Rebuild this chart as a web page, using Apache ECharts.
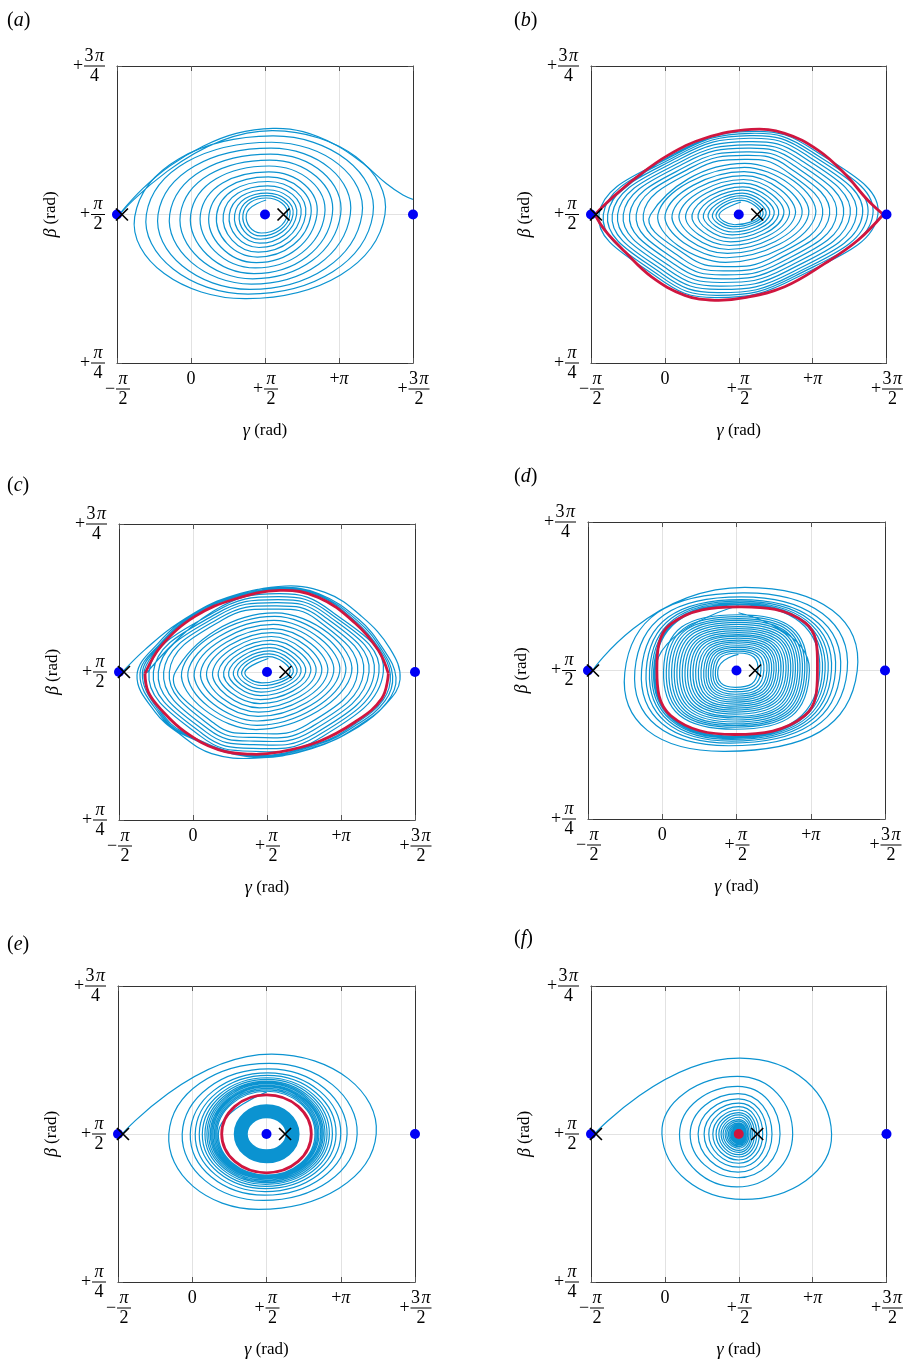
<!DOCTYPE html>
<html>
<head>
<meta charset="utf-8">
<title>Phase portraits</title>
<script src="https://cdn.jsdelivr.net/npm/echarts@6/dist/echarts.min.js"></script>
<style>
  html, body { margin: 0; padding: 0; background: #fff; }
  #chart { width: 906px; height: 1363px; }
</style>
</head>
<body>
<div id="chart"></div>
<script>
// angles are stored in degrees (gamma on x, beta on y); labels show them as multiples of pi
var xTickValues = [-90, 0, 90, 180, 270];
var xTickSigns = ['\u2212', '', '+', '+', '+'];
var xTickNums = ['\u03c0', '0', '\u03c0', '\u03c0', '3\u03c0'];
var xTickDens = ['2', '', '2', '', '2'];
var yTickValues = [45, 90, 135];
var yTickSigns = ['+', '+', '+'];
var yTickNums = ['\u03c0', '\u03c0', '3\u03c0'];
var yTickDens = ['4', '2', '4'];

var panelNames = ['a', 'b', 'c', 'd', 'e', 'f'];

// equilibria
var saddlePoints = [[-90, 90], [270, 90]];
var centerPoint = [[90, 90]];
var crossPoints = [[-84, 90], [112.5, 90]];

// (a)
var aSeparatrix = [[-84.7,90.8],[-58.4,97.9],[-25.9,104.7],[14.6,110.7],[55.1,114.6],[99.7,116.1],[136.2,115.1],[176.7,111.0],[209.2,105.5],[237.5,99.4],[257.8,95.9],[270,94.6]];
var aSpiral = [[-84.7,90.6],[99.7,115.4],[235.9,90.0],[67.3,64.5],[-68.5,89.3],
  [98.9,113.8],[221.3,90],[69.3,65.9],[-54.3,90],
  [98.1,111.9],[208.0,90],[71.4,67.3],[-40.1,90],
  [97.3,110.1],[193.8,90],[73.4,68.9],[-25.9,90],
  [96.5,108.3],[182.0,90],[75.0,70.5],[-13.0,90],
  [95.7,106.5],[171.9,90],[76.6,72.1],[-0.4,90],
  [94.9,104.7],[162.6,90],[78.2,73.8],[11.4,90],
  [94.5,102.9],[153.2,90],[79.5,75.4],[21.9,90],
  [94.1,101.4],[145.9,90],[80.7,77.1],[31.2,90],
  [93.6,100.0],[139.5,90],[81.9,78.6],[39.3,90],
  [93.2,98.7],[133.8,90],[82.7,80.0],[46.6,90],
  [92.8,97.5],[128.5,90],[83.5,81.3],[53.1,90],
  [92.4,96.5],[124.1,90],[84.3,82.5],[58.8,90],
  [92.0,95.7],[120.4,90],[85.1,83.5],[63.2,90],
  [91.6,95.0],[117.2,90],[85.5,84.4],[67.3,90],
  [91.4,94.4]];

// (b)
var bRedUpper = [[-85.1,90],[-64.9,94.9],[-36.5,100.9],[4.1,108.0],[48.6,113.1],[105.4,115.8],[145.9,114.6],[186.5,109.5],[218.9,102.4],[247.3,94.3],[266,90]];
var bRedLower = [[266,90],[235.1,82.2],[194.6,75.1],[145.9,68.1],[97.3,64.8],[60.8,64.0],[24.3,65.5],[-16.2,71.1],[-48.6,78.7],[-73.0,85.2],[-85.1,90]];
var bSpiral = [[-83.1,90.3],
  [11.2,108.4],[105.4,115.2],[182.4,109.4],[259.5,90],[160.5,70.9],[61.6,64.8],[-9.3,71.0],[-80.3,90],
  [12.2,108.1],[104.6,114.6],[179.0,109.0],[253.4,90],[158.1,71.3],[62.8,65.5],[-6.1,71.4],[-75.0,90],
  [14.4,107.8],[103.8,113.9],[175.5,108.6],[247.3,90],[155.7,71.7],[64.1,66.3],[-2.8,71.9],[-69.7,90],
  [16.6,107.4],[103.0,113.1],[171.9,108.1],[240.8,90],[153.0,72.3],[65.3,67.3],[0.6,72.5],[-64.1,90],
  [19.1,106.9],[102.2,112.1],[167.8,107.5],[233.5,90],[150.0,73.0],[66.5,68.3],[4.5,73.2],[-57.6,90],
  [21.9,106.3],[101.4,111.1],[163.6,106.8],[225.8,90],[146.8,73.7],[67.7,69.4],[8.5,73.9],[-50.7,90],
  [24.9,105.7],[100.5,110.1],[159.1,106.1],[217.7,90],[143.3,74.5],[68.9,70.5],[13.0,74.7],[-43.0,90],
  [28.4,104.9],[99.7,109.0],[154.5,105.3],[209.2,90],[139.7,75.3],[70.1,71.7],[17.6,75.5],[-34.9,90],
  [32.0,104.2],[98.9,107.9],[149.8,104.5],[200.7,90],[136.0,76.2],[71.4,72.9],[22.5,76.4],[-26.3,90],
  [35.9,103.4],[98.1,106.7],[145.1,103.6],[192.2,90],[132.4,77.2],[72.6,74.2],[27.6,77.4],[-17.4,90],
  [97.3,105.5],[183.6,90],[73.8,75.5],[-8.5,90],
  [96.9,104.3],[175.1,90],[75.0,76.9],[0.4,90],
  [96.5,103.0],[167.0,90],[76.2,78.2],[8.9,90],
  [96.1,101.8],[158.9,90],[77.4,79.4],[17.4,90],
  [95.7,100.6],[151.6,90],[78.6,80.6],[25.5,90],
  [95.3,99.5],[144.7,90],[79.9,81.7],[33.2,90],
  [94.9,98.4],[138.6,90],[81.1,82.8],[40.5,90],
  [94.5,97.4],[133.0,90],[81.9,83.8],[47.0,90],
  [94.1,96.5],[127.7,90],[82.7,84.7],[52.7,90],
  [93.6,95.7],[123.2,90],[83.5,85.6],[58.0,90],
  [93.2,95.0],[119.6,90],[84.3,86.3],[62.4,90],
  [93.2,94.3],[116.4,90],[85.1,86.9],[66.1,90],
  [92.8,93.8]];

// (c)
var cRedUpper = [[-58.4,89.5],[-38.1,98.1],[2.4,106.9],[51.1,112.2],[105.8,114.8],[152.4,112.7],[197.0,104.9],[225.4,96.6],[237.6,89.5]];
var cRedLower = [[237.6,89.5],[229.5,81.9],[197.0,74.8],[152.4,68.8],[103.8,65.6],[71.4,65.0],[30.8,66.4],[-9.7,71.8],[-38.1,78.4],[-54.3,83.9],[-58.4,89.5]];
var cSpiralOutside = [[-84.7,90.3],[-58.4,96.8],[-17.8,104.9],[34.9,111.7],[103.8,116.0],[160.5,114.2],[205.1,106.9],[239.6,97.1],[251.8,87.7],[233.5,79.9],[201.1,73.3],[144.3,66.7],[75.4,63.8],[22.7,65.2],[-13.8,70.7],[-46.2,77.9],[-68.1,89.0],
  [-42.2,98.8],[0.0,107.7],[49.9,113.3],[105.0,115.7],[153.2,113.8],[201.1,106.1],[230.3,97.4],[246.9,88.3],[235.9,80.8],[200.7,73.6],[154.5,67.7],[73.4,64.1],[-12.2,71.0],[-41.8,77.5],[-64.5,89.2],
  [-40.5,98.5],[0.8,107.5],[50.3,112.9],[105.4,115.4],[152.8,113.5],[199.5,105.7],[228.6,97.1],[242.8,88.8],[233.5,81.2],[199.5,74.0],[153.6,68.1],[72.6,64.4],[-11.4,71.2],[-40.5,77.8],[-61.6,89.4],
  [-39.3,98.3],[1.6,107.2],[50.7,112.6],[105.8,115.1],[152.8,113.2],[198.2,105.3],[227.0,96.9],[240.0,89.2],[231.5,81.6],[198.2,74.4],[153.2,68.4],[71.8,64.7],[-10.5,71.5],[-39.3,78.1],[-59.6,89.5],[-39.0,98.0]];
var cSpiralInside = [[-55.9,89.8],
  [24.5,108.5],[105.0,113.8],[168.2,108.5],[231.5,90],[151.6,69.5],[71.8,65.9],[9.1,70.5],[-53.5,90],
  [25.3,108.1],[104.2,112.9],[165.2,108.1],[226.2,90],[149.4,70.3],[72.6,66.8],[12.2,71.1],[-48.2,90],
  [27.6,107.6],[103.4,112.0],[162.0,107.6],[220.5,90],[147.0,71.1],[73.4,67.9],[15.6,71.8],[-42.2,90],
  [30.2,107.1],[102.6,111.1],[158.3,107.1],[214.1,90],[144.1,72.0],[74.2,69.0],[19.3,72.5],[-35.7,90],
  [33.0,106.5],[101.8,110.1],[154.7,106.5],[207.6,90],[141.3,72.9],[75.0,70.1],[23.1,73.3],[-28.8,90],
  [36.1,105.9],[100.9,109.1],[150.6,105.9],[200.3,90],[138.0,73.9],[75.8,71.3],[27.2,74.1],[-21.5,90],
  [100.1,108.0],[193.0,90],[76.6,72.5],[-13.8,90],
  [99.3,106.9],[185.7,90],[77.4,73.8],[-6.1,90],
  [98.5,105.7],[178.4,90],[78.2,75.1],[1.6,90],
  [97.7,104.5],[171.1,90],[79.1,76.5],[9.3,90],
  [96.9,103.2],[163.8,90],[79.9,77.8],[16.6,90],
  [96.1,102.0],[156.5,90],[80.7,79.1],[23.9,90],
  [95.3,100.8],[149.6,90],[81.5,80.4],[30.8,90],
  [94.5,99.6],[143.1,90],[81.9,81.6],[37.3,90],
  [93.6,98.5],[137.0,90],[82.3,82.8],[43.4,90],
  [93.2,97.4],[131.4,90],[82.7,83.9],[49.1,90],
  [92.8,96.4],[126.5,90],[83.1,84.9],[54.3,90],
  [92.4,95.5],[122.0,90],[83.5,85.9],[59.2,90],
  [92.0,94.7],[118.0,90],[83.9,86.7],[63.2,90],
  [91.6,94.1]];

// (d)
var dSpiralOutside = [[-83.9,90.2],[100.5,115.2],[236.3,89.9],[76.2,65.5],[-45.4,89.4],
  [97.3,113.5],[224.2,90],[80.3,67.2],[-33.2,90],
  [95.7,112.3],[216.1,90],[82.3,68.0],[-25.1,90],
  [94.9,111.5],[210.0,90],[83.5,68.6],[-19.5,90],
  [94.1,111.0],[205.1,90],[84.3,69.1],[-15.4,90],
  [93.6,110.6],[201.1,90],[85.1,69.5],[-12.6,90],
  [93.2,110.3],[197.4,90],[85.5,69.8],[-10.5,90],
  [93.2,110.1],[194.2,90],[85.9,70.0],[-9.3,90],
  [93.2,109.9],[190.9,90],[86.4,70.1],[-8.5,90],
  [93.2,109.7]];
var dRedCycle = [[-6.5,90.2],[10.5,104.1],[93.2,109.3],[173.5,104.4],[188.1,90.9],[172.7,76.3],[87.6,70.6],[10.5,76.3]];
var dSpiralInside = [
  [92.4,107.5],[178.4,90],[88.4,72.2],[1.6,90],
  [92.4,106.9],[175.5,90],[88.4,72.8],[4.9,90],
  [92.4,106.3],[172.7,90],[88.4,73.3],[8.1,90],
  [92.4,105.7],[169.9,90],[88.4,73.8],[11.4,90],
  [92.4,105.2],[167.0,90],[88.4,74.4],[14.6,90],
  [92.4,104.6],[164.2,90],[88.4,75.0],[17.8,90],
  [92.4,104.0],[161.4,90],[88.4,75.6],[21.1,90],
  [92.4,103.3],[158.5,90],[88.4,76.1],[24.3,90],
  [92.4,102.7],[155.7,90],[88.4,76.8],[27.6,90],
  [92.4,102.1],[152.8,90],[88.4,77.4],[30.8,90],
  [92.4,101.5],[150.0,90],[88.4,78.0],[34.1,90],
  [92.4,100.9],[146.8,90],[88.4,78.6],[37.3,90],
  [92.4,100.4],[143.9,90],[88.4,79.2],[40.5,90],
  [92.4,99.8],[141.1,90],[88.4,79.8],[43.8,90],
  [92.4,99.2],[138.2,90],[88.4,80.4],[47.0,90],
  [92.4,98.7],[135.4,90],[88.4,81.0],[50.3,90],
  [92.4,98.1],[132.6,90],[88.4,81.6],[53.1,90],
  [92.4,97.5],[129.7,90],[88.4,82.2],[55.9,90],
  [92.4,97.0],[126.9,90],[88.4,82.8],[58.8,90],
  [92.4,96.4],[123.2,90],[88.4,83.5],[61.6,90],
  [92.4,95.9],[119.6,90],[88.4,84.2],[64.5,90],
  [92.4,95.3],[115.9,90],[88.4,84.9],[67.3,90],
  [92.4,94.9]];

// (e)
var eSpiral = [[-83.9,90.3],[96.5,114.3],[223.0,90.0],[80.3,67.1],[-28.4,90.0],
  [93.2,111.5],[199.9,90],[86.4,69.8],[-12.2,90],
  [92.4,109.8],[187.7,90],[87.6,71.4],[-2.4,90],
  [91.6,108.6],[180.0,90],[88.4,72.5],[3.6,90],
  [91.2,107.8],[174.3,90],[88.8,73.4],[8.5,90],
  [90.8,107.1],[169.9,90],[89.2,74.1],[12.2,90],
  [90.8,106.6],[166.2,90],[89.2,74.7],[15.4,90],
  [90.4,106.1],[163.4,90],[89.6,75.2],[17.8,90],
  [90.4,105.7],[160.9,90],[89.6,75.6],[19.9,90],
  [90.4,105.3],[158.9,90],[89.6,76.0],[21.9,90],
  [90.4,104.9],[157.3,90],[89.6,76.4],[23.5,90],
  [90.4,104.6],[155.7,90],[89.6,76.7],[25.1,90],
  [90.4,104.3],[153.6,90],[89.6,76.9],[26.8,90],
  [90.4,103.9],[152.0,90],[90.0,77.1],[28.4,90],
  [90.4,103.4],[150.4,90],[90.0,77.3],[30.0,90],
  [90.4,103.0],[148.8,90],[90.0,77.5],[31.6,90],
  [90.4,102.8]];
var eRedCycle = [[35.7,90],[90,101.9],[144.3,90],[90,78.2]];
var eInnerBand = [[58.8,90],[90,96.9],[121.6,90],[90,83.2]];

// (f)
var fSpiral = [[-84.7,90.3],[91.6,113.1],[203.1,90.0],[95.7,70.1],[-3.6,90.0],
  [88.4,107.5],[155.7,90],[87.6,73.9],[17.8,90],
  [88.8,104.5],[140.3,90],[88.4,76.7],[30.8,90],
  [89.2,102.3],[130.5,90],[89.2,78.4],[40.5,90],
  [89.6,100.7],[124.1,90],[90,79.9],[47.8,90],
  [90,99.4],[119.2,90],[90,81.1],[53.5,90],
  [90,98.3],[115.1,90],[90,82.1],[58.4,90],
  [90,97.3],[111.9,90],[90,83.0],[62.4,90],
  [90,96.5],[109.1,90],[90,83.7],[65.7,90],
  [90,95.8],[106.6,90],[90,84.4],[68.5,90],
  [90,95.1],[104.6,90],[90,85.0],[70.9,90],
  [90,94.4],[102.6,90],[90,85.7],[73.4,90],
  [90,93.9],[100.9,90],[90,86.2],[75.4,90],
  [90,93.4],[99.3,90],[90,86.6],[77.4,90],
  [90,93.0],[98.1,90],[90,87.0],[79.1,90],
  [90,92.6],[96.9,90],[90,87.3],[80.7,90],
  [90,92.3],[95.7,90],[90,87.6],[81.9,90],
  [90,92.0],[94.5,90],[90,87.9],[83.1,90],
  [90,91.7],[93.6,90],[90,88.2],[84.3,90],
  [90,91.4],[92.8,90],[90,88.4],[85.5,90],
  [90,91.2]];

var SERIF = 'Liberation Serif';
var BLUE = '#0b93d1';
var RED = '#d0163f';
var DOT = '#0000f5';

var grids = [
  {left: 117, top: 66, width: 296, height: 297},
  {left: 591, top: 66, width: 296, height: 297},
  {left: 119, top: 524, width: 296, height: 296},
  {left: 588, top: 522, width: 297, height: 297},
  {left: 118, top: 986, width: 297, height: 296},
  {left: 591, top: 986, width: 296, height: 296}
];
var panelLabelPos = [[7, 11], [514, 11], [7, 476], [514, 467], [7, 935], [514, 929]];

function tok(extra) {
  var s = {fontFamily: SERIF, fontSize: 18, fontWeight: 'normal', color: '#000', lineHeight: 16};
  for (var k in extra) s[k] = extra[k];
  return s;
}
var RICH = {
  sp: tok({width: 12}),
  sg: tok({width: 12, align: 'center', lineHeight: 4}),
  pi: tok({width: 14, align: 'center', fontStyle: 'italic'}),
  n3: tok({width: 10, align: 'right'}),
  pi3: tok({width: 11, align: 'left', fontStyle: 'italic'}),
  b: {width: 14, height: 1, backgroundColor: '#000', lineHeight: 4},
  bw: {width: 21, height: 1, backgroundColor: '#000', lineHeight: 4},
  d: tok({width: 14, align: 'center'}),
  dw: tok({width: 21, align: 'center'}),
  o: tok({}),
  o1: tok({fontStyle: 'italic'})
};
var NAME_RICH = {
  i: {fontFamily: SERIF, fontSize: 18, fontStyle: 'italic', color: '#000'},
  r: {fontFamily: SERIF, fontSize: 17, color: '#000'}
};

function tickLabel(values, signs, nums, dens) {
  return function (v) {
    var i = values.indexOf(Math.round(v));
    if (i < 0) return '';
    var s = signs[i], n = nums[i], d = dens[i];
    if (!d) {
      return (s ? '{o|' + s + '}' : '') + (n === '\u03c0' ? '{o1|\u03c0}' : '{o|' + n + '}');
    }
    var wide = n.length > 1;
    var num = wide ? '{n3|3}{pi3|\u03c0}' : '{pi|\u03c0}';
    return '{sp|}' + num + '\n{sg|' + s + '}{' + (wide ? 'bw' : 'b') + '|}\n{sp|}{' + (wide ? 'dw' : 'd') + '|' + d + '}';
  };
}

var frameLine = {onZero: false, lineStyle: {color: '#333', width: 1}};
var innerTick = {inside: true, length: 5, lineStyle: {color: '#555', width: 1}};
var gridLine = {show: true, lineStyle: {color: '#e2e2e2', width: 1}};

var xAxes = [], yAxes = [], titles = [];
grids.forEach(function (gr, g) {
  xAxes.push({
    gridIndex: g, type: 'value', min: -90, max: 270, interval: 90, position: 'bottom',
    axisLine: frameLine, axisTick: innerTick, splitLine: gridLine,
    axisLabel: {margin: 8, formatter: tickLabel(xTickValues, xTickSigns, xTickNums, xTickDens), rich: RICH},
    name: '{i|\u03b3}{r| (rad)}', nameLocation: 'middle', nameGap: 59,
    nameTextStyle: {rich: NAME_RICH}
  });
  xAxes.push({
    gridIndex: g, type: 'value', min: -90, max: 270, interval: 90, position: 'top',
    axisLine: frameLine, axisTick: innerTick, splitLine: {show: false}, axisLabel: {show: false}
  });
  yAxes.push({
    gridIndex: g, type: 'value', min: 45, max: 135, interval: 45, position: 'left',
    axisLine: frameLine, axisTick: innerTick, splitLine: gridLine,
    axisLabel: {margin: 12, formatter: tickLabel(yTickValues, yTickSigns, yTickNums, yTickDens), rich: RICH},
    name: '{i|\u03b2}{r| (rad)}', nameLocation: 'middle', nameGap: 57, nameRotate: 90,
    nameTextStyle: {rich: NAME_RICH}
  });
  yAxes.push({
    gridIndex: g, type: 'value', min: 45, max: 135, interval: 45, position: 'right',
    axisLine: frameLine, axisTick: innerTick, splitLine: {show: false}, axisLabel: {show: false}
  });
  titles.push({
    text: '{p|(}{i|' + panelNames[g] + '}{p|)}',
    left: panelLabelPos[g][0], top: panelLabelPos[g][1], padding: 0,
    textStyle: {fontWeight: 'normal', rich: {
      p: {fontFamily: SERIF, fontSize: 20, fontWeight: 'normal', color: '#000'},
      i: {fontFamily: SERIF, fontSize: 20, fontWeight: 'normal', fontStyle: 'italic', color: '#000'}
    }}
  });
});

// a smooth path through the points of one trajectory, placed by the grid's own axes
function trace(g, data, color, width, smooth, z, closed) {
  return {
    type: 'custom', xAxisIndex: 2 * g, yAxisIndex: 2 * g, data: data, silent: true,
    z: z || 2, clip: true,
    renderItem: function (params, api) {
      if (params.dataIndex !== 0) return null;
      return {
        type: closed ? 'polygon' : 'polyline',
        shape: {points: data.map(function (p) { return api.coord(p); }), smooth: smooth},
        style: {fill: 'none', stroke: color, lineWidth: width, lineJoin: 'round'}
      };
    }
  };
}
function dots(g, data, color) {
  return {
    type: 'scatter', xAxisIndex: 2 * g, yAxisIndex: 2 * g, data: data, symbol: 'circle',
    symbolSize: 10, itemStyle: {color: color, opacity: 1}, silent: true, z: 5, clip: false
  };
}
function crosses(g) {
  return {
    type: 'scatter', xAxisIndex: 2 * g, yAxisIndex: 2 * g, data: crossPoints,
    symbol: 'path://M0,0L10,10M10,0L0,10', symbolSize: 12, silent: true, z: 6, clip: false,
    itemStyle: {color: 'none', borderColor: '#000', borderWidth: 1.7, opacity: 1}
  };
}

var series = [
  // (a)
  trace(0, aSeparatrix, BLUE, 1.2, 0.4),
  trace(0, aSpiral, BLUE, 1.2, 0.55),
  dots(0, saddlePoints.concat(centerPoint), DOT), crosses(0),
  // (b)
  trace(1, bSpiral, BLUE, 1.2, 0.45),
  trace(1, bRedUpper, RED, 2.8, 0.4, 3),
  trace(1, bRedLower, RED, 2.8, 0.4, 3),
  dots(1, saddlePoints.concat(centerPoint), DOT), crosses(1),
  // (c)
  trace(2, cSpiralOutside, BLUE, 1.2, 0.4),
  trace(2, cSpiralInside, BLUE, 1.2, 0.45),
  trace(2, cRedUpper, RED, 2.8, 0.4, 3),
  trace(2, cRedLower, RED, 2.8, 0.4, 3),
  dots(2, saddlePoints.concat(centerPoint), DOT), crosses(2),
  // (d)
  trace(3, dSpiralOutside, BLUE, 1.2, 0.65),
  trace(3, dSpiralInside, BLUE, 1.2, 0.72),
  trace(3, dRedCycle, RED, 2.8, 0.4, 3, true),
  dots(3, saddlePoints.concat(centerPoint), DOT), crosses(3),
  // (e)
  trace(4, eSpiral, BLUE, 1.2, 0.55),
  trace(4, eInnerBand, BLUE, 14, 0.55, 2, true),
  trace(4, eRedCycle, RED, 2.8, 0.55, 3, true),
  dots(4, saddlePoints.concat(centerPoint), DOT), crosses(4),
  // (f)
  trace(5, fSpiral, BLUE, 1.2, 0.55),
  dots(5, saddlePoints, DOT), dots(5, centerPoint, RED), crosses(5)
];

var chart = echarts.init(document.getElementById('chart'), null, {renderer: 'canvas'});
chart.setOption({
  animation: false,
  backgroundColor: '#fff',
  textStyle: {fontFamily: SERIF},
  title: titles,
  grid: grids,
  xAxis: xAxes,
  yAxis: yAxes,
  series: series
});
</script>
</body>
</html>
